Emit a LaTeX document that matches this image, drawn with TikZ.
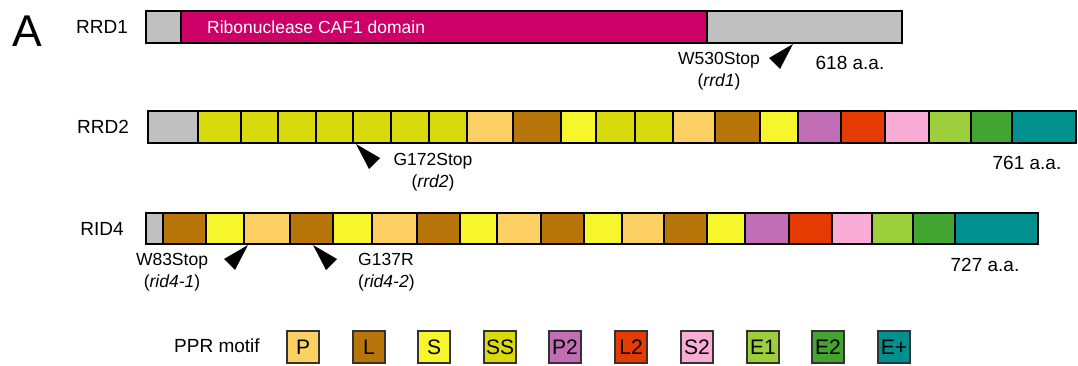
\documentclass[tikz,border=0pt]{standalone}
\usepackage{fontspec}
\setmainfont{Liberation Sans}
\definecolor{cGray}{HTML}{C0C0C0}
\definecolor{cMag}{HTML}{CC0066}
\definecolor{cP}{HTML}{FDD063}
\definecolor{cL}{HTML}{B8750A}
\definecolor{cS}{HTML}{F7F52B}
\definecolor{cSS}{HTML}{D9DA0B}
\definecolor{cPtwo}{HTML}{C16EB7}
\definecolor{cLtwo}{HTML}{E53B02}
\definecolor{cStwo}{HTML}{F9ADD6}
\definecolor{cEone}{HTML}{9DCF3C}
\definecolor{cEtwo}{HTML}{44A432}
\definecolor{cEplus}{HTML}{00918F}
\begin{document}
\begin{tikzpicture}[x=1pt,y=-1pt,
  seg/.style={draw=black,line width=1.1pt},
  rowlabel/.style={font=\fontsize{19}{21}\selectfont,inner sep=0pt},
  lenlabel/.style={font=\fontsize{19}{21}\selectfont,inner sep=0pt},
  mutlabel/.style={font=\fontsize{17.5}{22}\selectfont,inner sep=0pt,align=center},
  legbox/.style={draw=black!80,line width=1.4pt,minimum width=32pt,minimum height=32pt,
    inner sep=0pt,font=\fontsize{21}{21}\selectfont},
  mutR/.pic={\fill[black] (0,0) -- (24,14) -- (13,25) -- cycle;},
  mutL/.pic={\fill[black] (0,0) -- (-24,14) -- (-13,25) -- cycle;}]
\useasboundingbox (0,0) rectangle (1078,366);

% panel letter
\node[font=\fontsize{44.5}{46}\selectfont,inner sep=0pt] (panel) at (27.5,31) {A};

% ---- RRD1 ----
\node[rowlabel] (lRRDone) at (102,27) {RRD1};
\foreach \a/\b/\c in {146/181/cGray,181/707/cMag,707/902/cGray}
  \draw[seg,fill=\c] (\a,11) rectangle (\b,43);
\node[anchor=west,text=white,font=\fontsize{17.5}{20}\selectfont,inner sep=0pt]
  (caf) at (207,27) {Ribonuclease CAF1 domain};
\coordinate (mRRDone) at (793,44);
\pic at (mRRDone) {mutL};
\node[mutlabel] (tRRDone) at (719,71) {W530Stop\\(\textit{rrd1})};
\node[lenlabel] (aRRDone) at (850,63) {618 a.a.};

% ---- RRD2 ----
\node[rowlabel] (lRRDtwo) at (103,127) {RRD2};
\foreach \a/\b/\c in {148/198/cGray,198/241/cSS,241/278/cSS,278/316/cSS,316/353/cSS,
    353/391/cSS,391/429/cSS,429/467/cSS,467/513/cP,513/561/cL,561/596/cS,596/635/cSS,
    635/673/cSS,673/715/cP,715/760/cL,760/798/cS,798/841/cPtwo,841/885/cLtwo,
    885/929/cStwo,929/971/cEone,971/1012/cEtwo,1012/1076/cEplus}
  \draw[seg,fill=\c] (\a,111) rectangle (\b,143);
\coordinate (mRRDtwo) at (356,144);
\pic at (mRRDtwo) {mutR};
\node[mutlabel] (tRRDtwo) at (433,172) {G172Stop\\(\textit{rrd2})};
\node[lenlabel] (aRRDtwo) at (1027,163) {761 a.a.};

% ---- RID4 ----
\node[rowlabel] (lRIDfour) at (102,228.5) {RID4};
\foreach \a/\b/\c in {146/163/cGray,163/206/cL,206/244/cS,244/290/cP,290/333/cL,
    333/372/cS,372/417/cP,417/460/cL,460/497/cS,497/541/cP,541/584/cL,584/622/cS,
    622/664/cP,664/707/cL,707/745/cS,745/789/cPtwo,789/832/cLtwo,832/872/cStwo,
    872/913/cEone,913/955/cEtwo,955/1038/cEplus}
  \draw[seg,fill=\c] (\a,213) rectangle (\b,244);
\coordinate (mRIDa) at (248,245);
\pic at (mRIDa) {mutL};
\coordinate (mRIDb) at (313,245);
\pic at (mRIDb) {mutR};
\node[mutlabel] (tRIDa) at (172,272) {W83Stop\\(\textit{rid4-1})};
\node[mutlabel,align=left,anchor=west] (tRIDb) at (358,272) {G137R\\(\textit{rid4-2})};
\node[lenlabel] (aRIDfour) at (985,265) {727 a.a.};

% ---- legend ----
\node[font=\fontsize{19}{21}\selectfont,inner sep=0pt] (legtitle) at (217,346) {PPR motif};
\foreach \x/\c/\t in {303/cP/P,369/cL/L,434/cS/S,500/cSS/SS,565/cPtwo/P2,
    631/cLtwo/L2,697/cStwo/S2,763/cEone/E1,828/cEtwo/E2,894/cEplus/E+}
  \node[legbox,fill=\c] (leg\t) at (\x,347) {\t};
\end{tikzpicture}
\end{document}
